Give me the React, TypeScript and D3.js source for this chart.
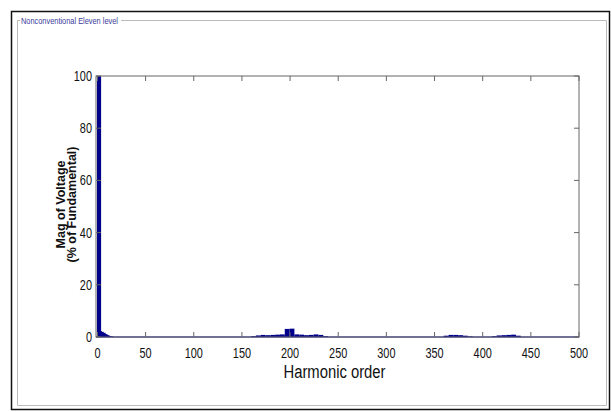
import { useEffect, useRef } from 'react';
import * as d3 from 'd3';

// harmonic orders with non-zero magnitude (% of fundamental)
const harmonics = [1, 2, 4, 6, 8, 10, 12, 14,
    162, 167, 172, 177, 182, 187, 192, 197, 202, 207, 212, 217, 222, 227, 232, 237,
    362, 367, 372, 377, 382, 387,
    412, 417, 422, 427, 432, 437];
const magnitudes = [100, 2.3, 2.0, 1.6, 1.1, 0.7, 0.4, 0.2,
    0.3, 0.6, 0.8, 0.7, 0.8, 0.9, 1.0, 3.1, 3.2, 1.0, 0.9, 0.7, 0.8, 1.0, 0.8, 0.3,
    0.5, 0.8, 0.8, 0.7, 0.5, 0.2,
    0.3, 0.6, 0.7, 0.8, 0.9, 0.5];
const xTicks = [0, 50, 100, 150, 200, 250, 300, 350, 400, 450, 500];
const yTicks = [0, 20, 40, 60, 80, 100];
const panelTitle = 'Nonconventional Eleven level';

const FONT = '"Liberation Sans", Arial, sans-serif';
const NARROW = 0.78; // horizontal squeeze, the original uses a condensed face

export default function App() {
    const svgRef = useRef<SVGSVGElement>(null);

    useEffect(() => {
        if (!svgRef.current) return;
        const root = d3.select(svgRef.current);
        root.selectAll('*').remove();

        const width = 611, height = 412;
        const margin = { top: 76, right: 32, bottom: 75, left: 96 };
        const innerWidth = width - margin.left - margin.right;
        const innerHeight = height - margin.top - margin.bottom;

        // outer frame + group box
        root.append('rect').attr('x', 11.5).attr('y', 11.5).attr('width', 598).attr('height', 398)
            .attr('fill', 'white').attr('stroke', '#111').attr('stroke-width', 1.5);
        root.append('path')
            .attr('d', 'M20,20.5 H17.5 V405.5 H606.5 V20.5 H121')
            .attr('fill', 'none').attr('stroke', '#bbb').attr('stroke-width', 1);
        root.append('text')
            .attr('transform', `translate(21,23.5) scale(${NARROW},1)`)
            .attr('font-family', FONT).attr('font-size', 9.5)
            .attr('fill', '#3a3a9a')
            .text(panelTitle);

        const svg = root.append('g').attr('transform', `translate(${margin.left},${margin.top})`);

        const x = d3.scaleLinear().domain([-1.5, 500]).range([0, innerWidth]);
        const y = d3.scaleLinear().domain([0, 100]).range([innerHeight, 0]);

        // bars
        const data = harmonics.map((h, i) => ({ h, v: magnitudes[i] }));
        svg.selectAll('.bar')
            .data(data)
            .enter()
            .append('rect')
            .attr('class', 'bar')
            .attr('x', d => x(d.h === 1 ? -0.5 : d.h - 2.5))
            .attr('width', d => x(d.h === 1 ? 3.8 : d.h + 2.5) - x(d.h === 1 ? -0.5 : d.h - 2.5))
            .attr('y', d => y(d.v))
            .attr('height', d => y(0) - y(d.v))
            .attr('fill', '#00008b');

        // baseline
        svg.append('line')
            .attr('x1', x(-1.5)).attr('x2', x(500))
            .attr('y1', y(0)).attr('y2', y(0))
            .attr('stroke', '#00008b').attr('stroke-width', 1.2);

        // box
        svg.append('rect').attr('x', 0).attr('y', 0).attr('width', innerWidth).attr('height', innerHeight)
            .attr('fill', 'none').attr('stroke', '#666').attr('stroke-width', 1);

        // ticks (inside, MATLAB style)
        const tl = 5;
        xTicks.forEach(t => {
            svg.append('line').attr('x1', x(t)).attr('x2', x(t)).attr('y1', innerHeight).attr('y2', innerHeight - tl).attr('stroke', '#666');
            svg.append('line').attr('x1', x(t)).attr('x2', x(t)).attr('y1', 0).attr('y2', tl).attr('stroke', '#666');
        });
        yTicks.forEach(t => {
            svg.append('line').attr('x1', 0).attr('x2', tl).attr('y1', y(t)).attr('y2', y(t)).attr('stroke', '#666');
            svg.append('line').attr('x1', innerWidth).attr('x2', innerWidth - tl).attr('y1', y(t)).attr('y2', y(t)).attr('stroke', '#666');
        });

        // tick labels
        svg.selectAll('.xlab')
            .data(xTicks)
            .enter()
            .append('text')
            .attr('transform', d => `translate(${x(d)},${innerHeight + 21}) scale(${NARROW},1)`)
            .attr('text-anchor', 'middle')
            .attr('font-family', FONT).attr('font-size', 14)
            .attr('fill', '#111')
            .text(d => d);
        svg.selectAll('.ylab')
            .data(yTicks)
            .enter()
            .append('text')
            .attr('transform', d => `translate(-4,${y(d) + 5}) scale(${NARROW},1)`)
            .attr('text-anchor', 'end')
            .attr('font-family', FONT).attr('font-size', 14)
            .attr('fill', '#111')
            .text(d => d);

        // axis titles
        svg.append('text')
            .attr('transform', `translate(${innerWidth / 2 - 3},${innerHeight + 41}) scale(${NARROW},1)`)
            .attr('text-anchor', 'middle')
            .attr('font-family', FONT).attr('font-size', 19)
            .attr('fill', '#111')
            .text('Harmonic order');

        const yl = svg.append('text')
            .attr('transform', `translate(-31,${innerHeight / 2 - 2}) rotate(-90)`)
            .attr('text-anchor', 'middle')
            .attr('font-family', 'Arial, "Liberation Sans", sans-serif')
            .attr('font-size', 12.5).attr('font-weight', 'bold')
            .attr('fill', '#111');
        yl.append('tspan').attr('x', 0).attr('dy', 0).text('Mag of Voltage');
        yl.append('tspan').attr('x', 0).attr('dy', 11).text('(% of Fundamental)');
    }, []);

    return (
        <div style={{ position: 'fixed', left: 0, top: 0 }}>
            <svg ref={svgRef} width={611} height={412} style={{ display: 'block', background: 'white' }}
                role="img" aria-label="Harmonic spectrum bar chart"></svg>
        </div>
    );
}
